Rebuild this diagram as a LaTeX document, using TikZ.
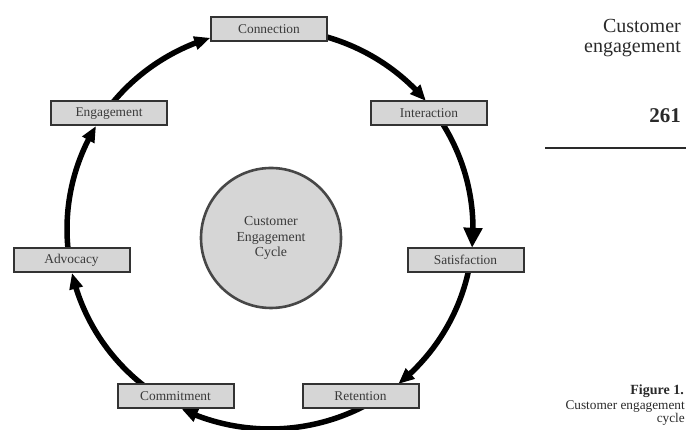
\documentclass[tikz,border=0pt]{standalone}
\usepackage{fontspec}
\setmainfont{Liberation Serif}
\usetikzlibrary{arrows.meta,bending}
\definecolor{boxfill}{HTML}{D6D6D6}
\definecolor{boxline}{HTML}{333333}
\definecolor{labelgray}{HTML}{3A3A3A}
\definecolor{textdark}{HTML}{2A2A2A}
\tikzset{
  stagebox/.style={draw=boxline, line width=2pt, fill=boxfill, minimum width=116pt, minimum height=24pt, inner sep=0pt, text=labelgray, font=\fontsize{13.4}{15}\selectfont},
  hub/.style={circle, draw=boxline!90, line width=2.6pt, fill=boxfill, minimum size=140pt, inner sep=0pt, text=labelgray, align=center, font=\fontsize{13.8}{15.5}\selectfont},
  cyc/.style={line width=5.5pt, black, -{Triangle[length=16pt,width=13pt,flex]}},
  cycbig/.style={line width=5.5pt, black, -{Triangle[length=20pt,width=18pt,flex]}},
  sidetext/.style={anchor=base east, inner sep=0pt, text=textdark}
}
\begin{document}
\begin{tikzpicture}[x=1pt,y=1pt]
\useasboundingbox (0,0) rectangle (686,430);
\coordinate (C) at (270,201);
% arc points
\foreach \n/\a in {s1/144.7, e1/107.1, s2/90, e2/39.8, s3/35.3, e3/-5.4, s4/-8.9, e4/-50.8, s5/-56.9, e5/-115.8, s6/236.9, e6/192.7, s7/189.06, e7/149.0}
  \path (C) ++(\a:203pt and 200pt) coordinate (\n);
% cycle arrows
\draw[cyc] (s1) arc[start angle=144.7, end angle=107.1, x radius=203, y radius=200];
\draw[cyc] (s2) arc[start angle=90, end angle=39.8, x radius=203, y radius=200];
\draw[cycbig] (s3) arc[start angle=35.3, end angle=-5.4, x radius=203, y radius=200];
\draw[cyc] (s4) arc[start angle=-8.9, end angle=-50.8, x radius=203, y radius=200];
\draw[cyc] (s5) arc[start angle=-56.9, end angle=-115.8, x radius=203, y radius=200];
\draw[cyc] (s6) arc[start angle=236.9, end angle=192.7, x radius=203, y radius=200];
\draw[cyc] (s7) arc[start angle=189.06, end angle=149.0, x radius=203, y radius=200];
% boxes
\node[stagebox] (conn) at (269,400.5) {Connection};
\node[stagebox] (inter) at (429,316.5) {Interaction};
\node[stagebox] (sat) at (465.5,170) {Satisfaction};
\node[stagebox] (ret) at (360.5,33.5) {Retention};
\node[stagebox] (com) at (175.5,33.5) {Commitment};
\node[stagebox] (adv) at (71.5,169.5) {Advocacy};
\node[stagebox] (eng) at (109,316.5) {Engagement};
% hub
\node[hub] (hubc) at (271,192) {Customer\\Engagement\\Cycle};
% side texts
\node[sidetext, font=\fontsize{20}{20}\selectfont] (t1) at (681,397) {Customer};
\node[sidetext, font=\fontsize{20}{20}\selectfont] (t2) at (681,377) {engagement};
\node[sidetext, font=\bfseries\fontsize{21}{21}\selectfont] (t3) at (681,307) {261};
\coordinate (r1) at (545,282);
\coordinate (r2) at (686,282);
\draw[line width=2pt, textdark] (r1) -- (r2);
\node[sidetext, font=\bfseries\fontsize{14}{14}\selectfont] (f1) at (684,35) {Figure 1.};
\node[sidetext, font=\fontsize{13.3}{13.3}\selectfont] (f2) at (685,20) {Customer engagement};
\node[sidetext, font=\fontsize{13.3}{13.3}\selectfont] (f3) at (685,7) {cycle};
\end{tikzpicture}
\end{document}
